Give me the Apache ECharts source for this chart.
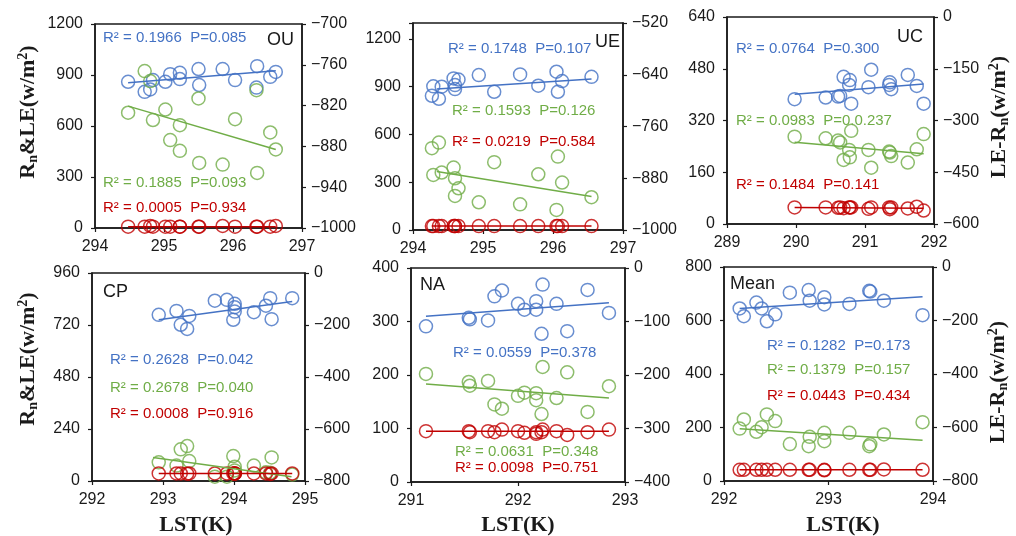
<!DOCTYPE html>
<html><head><meta charset="utf-8">
<script src="https://cdn.jsdelivr.net/npm/echarts@6/dist/echarts.min.js"></script>
<style>html,body{margin:0;padding:0;background:#fff}#c{width:1016px;height:536px}</style>
</head><body><div id="c"></div>
<script>
// ---------- DATA ----------
// OU
const ouLST  = [294.48,294.72,294.80,294.84,295.02,295.09,295.23,295.23,295.50,295.51,295.85,296.03,296.34,296.35,296.54,296.62];
const ouRn   = [860,801,815,870,860,905,913,876,935,841,935,870,826,952,889,918];
const ouLE   = [678,923,864,635,697,517,605,454,762,383,373,640,811,324,562,462];
const ouDiff = [-998,-998,-997,-998,-998,-998,-998,-998,-998,-998,-997,-998,-998,-998,-998,-997];
const ouRnFit = [[294.48,855],[296.62,925]];
const ouLEFit = [[294.48,717],[296.62,462]];
const ouDiffFit = [[294.48,-998],[296.62,-998]];
const ouXTicks = [294,295,296,297];
const ouLeftTicks = [0,300,600,900,1200];
const ouRightTicks = [-1000,-940,-880,-820,-760,-700];
const ouStats = ['R² = 0.1966  P=0.085','R² = 0.1885  P=0.093','R² = 0.0005  P=0.934'];

// UE
const ueLST  = [294.27,294.29,294.37,294.41,294.58,294.60,294.60,294.65,294.94,295.16,295.53,295.79,296.05,296.07,296.13,296.55];
const ueRn   = [843,902,824,900,952,910,885,945,973,868,977,906,994,868,935,962];
const ueLE   = [514,346,549,361,392,325,214,262,174,426,161,350,126,461,298,206];
const ueDiff = [-991,-991,-991,-991,-991,-991,-991,-991,-991,-991,-991,-991,-991,-991,-991,-991];
const ueRnFit = [[294.34,885],[296.55,948]];
const ueLEFit = [[294.34,367],[296.55,210]];
const ueDiffFit = [[294.27,-991],[296.55,-991]];
const ueXTicks = [294,295,296,297];
const ueLeftTicks = [0,300,600,900,1200];
const ueLeftMax = 1300;
const ueRightTicks = [-1000,-880,-760,-640,-520];
const ueStats = ['R² = 0.1748  P=0.107','R² = 0.1593  P=0.126','R² = 0.0219  P=0.584'];

// UC
const ucLST  = [289.98,290.43,290.61,290.64,290.69,290.77,290.78,290.80,291.05,291.09,291.35,291.36,291.38,291.62,291.75,291.85];
const ucRn   = [386,391,394,396,455,430,445,372,423,477,430,438,417,461,427,372];
const ucLE   = [270,265,258,252,198,229,206,288,229,174,224,221,210,190,231,278];
const ucDiff = [-552,-552,-553,-552,-554,-552,-552,-552,-556,-552,-552,-557,-552,-555,-550,-561];
const ucRnFit = [[289.98,401],[291.85,433]];
const ucLEFit = [[289.98,253],[291.85,217]];
const ucDiffFit = [[289.98,-552],[291.85,-554]];
const ucXTicks = [289,290,291,292];
const ucLeftTicks = [0,160,320,480,640];
const ucRightTicks = [-600,-450,-300,-150,0];
const ucStats = ['R² = 0.0764  P=0.300','R² = 0.0983  P=0.0.237','R² = 0.1484  P=0.141'];

// CP
const cpLST  = [292.94,293.19,293.25,293.34,293.37,293.73,293.90,293.99,294.01,294.01,294.01,294.28,294.45,294.51,294.53,294.82];
const cpRn   = [767,785,721,702,762,832,836,744,818,802,782,779,809,844,747,844];
const cpLE   = [86,71,146,161,92,20,20,115,66,49,35,71,40,38,109,30];
const cpDiff = [-771,-771,-771,-772,-771,-771,-771,-771,-771,-772,-771,-771,-771,-773,-771,-771];
const cpRnFit = [[292.94,744],[294.82,829]];
const cpLEFit = [[292.86,109],[294.81,20]];
const cpDiffFit = [[292.94,-771],[294.82,-771]];
const cpXTicks = [292,293,294,295];
const cpLeftTicks = [0,240,480,720,960];
const cpRightTicks = [-800,-600,-400,-200,0];
const cpStats = ['R² = 0.2628  P=0.042','R² = 0.2678  P=0.040','R² = 0.0008  P=0.916'];

// NA
const naLST  = [291.14,291.54,291.55,291.72,291.78,291.85,292.00,292.06,292.17,292.17,292.22,292.23,292.36,292.46,292.65,292.85];
const naRn   = [291,307,304,302,347,358,333,322,338,322,277,369,333,282,359,316];
const naLE   = [202,187,180,189,145,137,161,167,166,153,127,215,157,205,131,179];
const naDiff = [-305,-305,-307,-305,-307,-302,-305,-308,-310,-307,-307,-302,-305,-312,-307,-302];
const naRnFit = [[291.14,310],[292.85,335]];
const naLEFit = [[291.14,183],[292.85,157]];
const naDiffFit = [[291.14,-305],[292.85,-305]];
const naXTicks = [291,292,293];
const naLeftTicks = [0,100,200,300,400];
const naRightTicks = [-400,-300,-200,-100,0];
const naStats = ['R² = 0.0559  P=0.378','R² = 0.0631  P=0.348','R² = 0.0098  P=0.751'];

// Mean
const mnLST  = [292.15,292.19,292.31,292.36,292.41,292.49,292.63,292.81,292.82,292.96,292.96,293.20,293.39,293.40,293.53,293.90];
const mnRn   = [645,616,667,645,597,623,704,714,674,687,660,662,711,708,674,620];
const mnLE   = [196,230,184,201,249,224,138,130,165,149,180,180,130,137,174,220];
const mnDiff = [-758,-758,-758,-758,-758,-758,-758,-758,-758,-760,-758,-758,-758,-758,-757,-758];
const mnRnFit = [[292.15,645],[293.90,689]];
const mnLEFit = [[292.15,195],[293.90,152]];
const mnDiffFit = [[292.15,-758],[293.90,-758]];
const mnXTicks = [292,293,294];
const mnLeftTicks = [0,200,400,600,800];
const mnRightTicks = [-800,-600,-400,-200,0];
const mnStats = ['R² = 0.1282  P=0.173','R² = 0.1379  P=0.157','R² = 0.0443  P=0.434'];

// ---------- LAYOUT / STYLE ----------
const BLUE = '#4472C4', GREEN = '#70AD47', RED = '#C00000', INK = '#1a1a1a';
const panels = [
  {name:'OU', lst:ouLST, rn:ouRn, le:ouLE, diff:ouDiff, fits:[ouRnFit,ouLEFit,ouDiffFit], x:ouXTicks, l:ouLeftTicks, r:ouRightTicks, stats:ouStats,
   grid:{left:95, top:24, width:207, height:204}, nameAt:[267,40], statAt:[[103,38],[103,183],[103,208]]},
  {name:'UE', lst:ueLST, rn:ueRn, le:ueLE, diff:ueDiff, fits:[ueRnFit,ueLEFit,ueDiffFit], x:ueXTicks, l:ueLeftTicks, lmax:ueLeftMax, r:ueRightTicks, stats:ueStats,
   grid:{left:413, top:23, width:210, height:207}, nameAt:[595,42], statAt:[[448,49],[452,111],[452,142]]},
  {name:'UC', lst:ucLST, rn:ucRn, le:ucLE, diff:ucDiff, fits:[ucRnFit,ucLEFit,ucDiffFit], x:ucXTicks, l:ucLeftTicks, r:ucRightTicks, stats:ucStats,
   grid:{left:727, top:17, width:207, height:207}, nameAt:[897,37], statAt:[[736,49],[736,121],[736,185]]},
  {name:'CP', lst:cpLST, rn:cpRn, le:cpLE, diff:cpDiff, fits:[cpRnFit,cpLEFit,cpDiffFit], x:cpXTicks, l:cpLeftTicks, r:cpRightTicks, stats:cpStats,
   grid:{left:92, top:273, width:213, height:208}, nameAt:[103,292], statAt:[[110,360],[110,388],[110,414]]},
  {name:'NA', lst:naLST, rn:naRn, le:naLE, diff:naDiff, fits:[naRnFit,naLEFit,naDiffFit], x:naXTicks, l:naLeftTicks, r:naRightTicks, stats:naStats,
   grid:{left:411, top:268, width:214, height:214}, nameAt:[420,285], statAt:[[453,353],[455,452],[455,468]]},
  {name:'Mean', lst:mnLST, rn:mnRn, le:mnLE, diff:mnDiff, fits:[mnRnFit,mnLEFit,mnDiffFit], x:mnXTicks, l:mnLeftTicks, r:mnRightTicks, stats:mnStats,
   grid:{left:724, top:267, width:209, height:214}, nameAt:[730,284], statAt:[[767,346],[767,370],[767,396]]}
];

const minus = v => String(v).replace('-', '\u2212');
const axisLine = {show:true, onZero:false, lineStyle:{color:INK, width:1.5}};
const tick = {show:true, inside:false, length:4, lineStyle:{color:INK, width:1.2}};
const lab = {fontSize:16, color:INK, fontFamily:'Liberation Sans, Arial, sans-serif'};

const grid = [], xAxis = [], yAxis = [], series = [], graphic = [];
panels.forEach((p, i) => {
  grid.push(Object.assign({show:true, borderColor:INK, borderWidth:1.5, backgroundColor:'transparent'}, p.grid));
  xAxis.push({gridIndex:i, type:'value', min:p.x[0], max:p.x[p.x.length-1], interval:p.x[1]-p.x[0],
    axisLine, axisTick:tick, splitLine:{show:false}, axisLabel:Object.assign({margin:11}, lab)});
  const lmax = p.lmax || p.l[p.l.length-1];
  yAxis.push({gridIndex:i, type:'value', position:'left', min:p.l[0], max:lmax, interval:p.l[1]-p.l[0],
    axisLine, axisTick:tick, splitLine:{show:false},
    axisLabel:Object.assign({margin:12, formatter: v => p.l.indexOf(v) >= 0 ? String(v) : ''}, lab)});
  yAxis.push({gridIndex:i, type:'value', position:'right', min:p.r[0], max:p.r[p.r.length-1],
    axisLine, axisTick:Object.assign({customValues:p.r}, tick), splitLine:{show:false},
    axisLabel:Object.assign({margin:9, customValues:p.r, formatter:minus}, lab)});
  const sets = [[p.rn, BLUE, 2*i], [p.le, GREEN, 2*i], [p.diff, RED, 2*i+1]];
  sets.forEach(([vals, col, yi], k) => {
    series.push({type:'scatter', xAxisIndex:i, yAxisIndex:yi, symbol:'circle', symbolSize:13,
      data: p.lst.map((x, j) => [x, vals[j]]),
      itemStyle:{color:'rgba(255,255,255,0)', borderColor:col, borderWidth:1.5}, z:2});
    series.push({type:'line', xAxisIndex:i, yAxisIndex:yi, data:p.fits[k], symbol:'none',
      lineStyle:{color:col, width:1.5}, z:3, silent:true});
    graphic.push({type:'text', x:p.statAt[k][0], y:p.statAt[k][1],
      style:{text:p.stats[k], fill:col, fontSize:15, fontFamily:'Liberation Sans, Arial, sans-serif', verticalAlign:'middle', align:'left'}});
  });
  graphic.push({type:'text', x:p.nameAt[0], y:p.nameAt[1],
    style:{text:p.name, fill:INK, fontSize:18, fontFamily:'Liberation Sans, Arial, sans-serif', verticalAlign:'middle', align:'left'}});
});

const serif = 'Liberation Serif, Times New Roman, serif';
const rich = {
  m:{fontSize:22, fontWeight:'bold', fontFamily:serif, fill:INK, lineHeight:24},
  s:{fontSize:14, fontWeight:'bold', fontFamily:serif, fill:INK, lineHeight:14, verticalAlign:'bottom'},
  p:{fontSize:14, fontWeight:'bold', fontFamily:serif, fill:INK, lineHeight:14, verticalAlign:'top'}
};
const leftTitle = '{m|R}{s|n}{m|&LE(w/m}{p|2}{m|)}';
const rightTitle = '{m|LE-R}{s|n}{m|(w/m}{p|2}{m|)}';
[[28,112],[28,359]].forEach(([x,y]) => graphic.push({type:'text', x, y, rotation:Math.PI/2,
  style:{text:leftTitle, rich, align:'center', verticalAlign:'middle', fill:INK}}));
[[999,117],[998,382]].forEach(([x,y]) => graphic.push({type:'text', x, y, rotation:Math.PI/2,
  style:{text:rightTitle, rich, align:'center', verticalAlign:'middle', fill:INK}}));
[[196,525],[518,525],[843,525]].forEach(([x,y]) => graphic.push({type:'text', x, y,
  style:{text:'LST(K)', fontSize:22, fontWeight:'bold', fontFamily:serif, fill:INK, align:'center', verticalAlign:'middle'}}));

const chart = echarts.init(document.getElementById('c'), null, {renderer:'canvas'});
chart.setOption({animation:false, backgroundColor:'#fff', grid, xAxis, yAxis, series, graphic});
</script></body></html>
